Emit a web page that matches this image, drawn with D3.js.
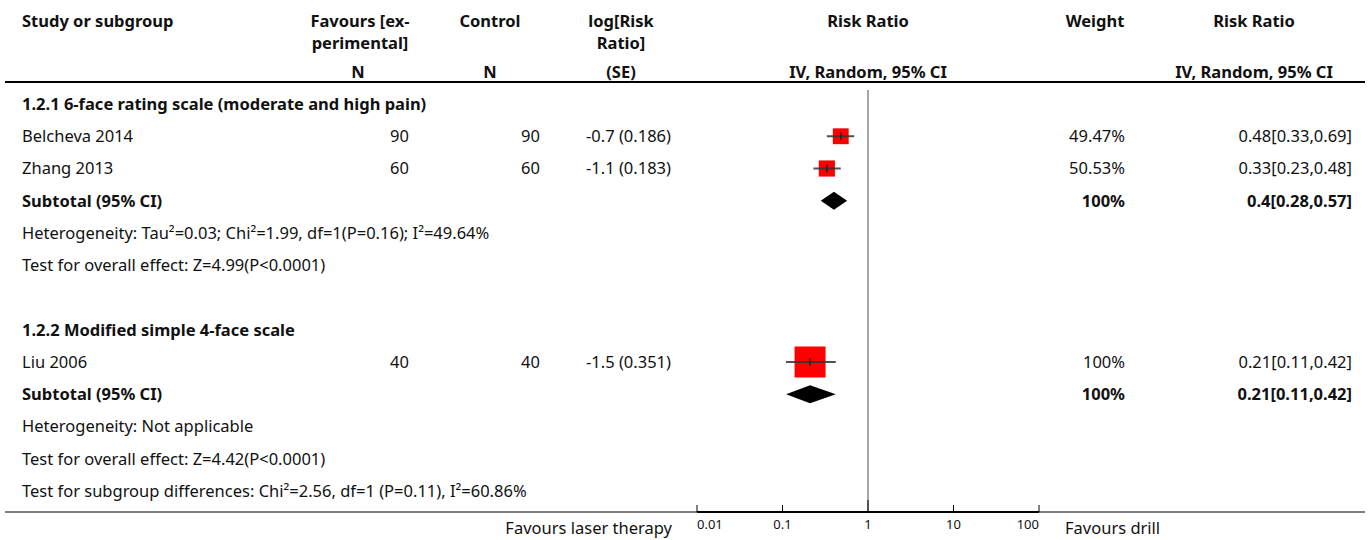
<!DOCTYPE html>
<html>
<head>
<meta charset="utf-8">
<script src="https://cdn.jsdelivr.net/npm/d3@7"></script>
<style>
  body { margin: 0; background: #fff; }
  text { font-family: "Noto Sans", sans-serif; font-size: 16.5px; fill: #111; }
  .b { font-weight: bold; }
</style>
</head>
<body>
<svg id="chart"></svg>
<script>
var studies = ["Belcheva 2014", "Zhang 2013", "Liu 2006"];
var studyGroup = [0, 0, 1];
var expN = [90, 60, 40];
var ctrlN = [90, 60, 40];
var logRR = ["-0.7 (0.186)", "-1.1 (0.183)", "-1.5 (0.351)"];
var rr = [0.48, 0.33, 0.21];
var rrLo = [0.33, 0.23, 0.11];
var rrHi = [0.69, 0.48, 0.42];
var weights = [49.47, 50.53, 100];

var groups = ["1.2.1 6-face rating scale (moderate and high pain)", "1.2.2 Modified simple 4-face scale"];
var subRR = [0.4, 0.21];
var subLo = [0.28, 0.11];
var subHi = [0.57, 0.42];
var subLabel = ["0.4[0.28,0.57]", "0.21[0.11,0.42]"];
var heterogeneity = ["Heterogeneity: Tau²=0.03; Chi²=1.99, df=1(P=0.16); I²=49.64%", "Heterogeneity: Not applicable"];
var overall = ["Test for overall effect: Z=4.99(P<0.0001)", "Test for overall effect: Z=4.42(P<0.0001)"];
var subgroupDiff = "Test for subgroup differences: Chi²=2.56, df=1 (P=0.11), I²=60.86%";

var ticks = [0.01, 0.1, 1, 10, 100];

var w = 1370;
var h = 540;

var svg = d3.select("#chart")
            .attr("width", w)
            .attr("height", h);

var xScale = d3.scaleLog()
               .domain([0.01, 100])
               .range([697, 1039]);

var yRow = d3.scaleLinear()
             .domain([0, 12])
             .range([104, 491]);

var sizeScale = d3.scaleLinear()
                  .domain([0, 100])
                  .range([1, 31]);

// column positions
var colStudy = 22, colExp = 409, colCtrl = 540, colLog = 671, colWeight = 1125, colCI = 1352;

function txt(x, y, s, anchor, cls) {
    return svg.append("text")
              .attr("x", x)
              .attr("y", y)
              .attr("dy", "0.35em")
              .attr("text-anchor", anchor || "start")
              .attr("class", cls || null)
              .text(s);
}

// header
txt(colStudy, 21, "Study or subgroup", "start", "b");
txt(360, 21, "Favours [ex-", "middle", "b");
txt(360, 43, "perimental]", "middle", "b");
txt(358, 72, "N", "middle", "b");
txt(490, 21, "Control", "middle", "b");
txt(490, 72, "N", "middle", "b");
txt(621, 21, "log[Risk", "middle", "b");
txt(621, 43, "Ratio]", "middle", "b");
txt(621, 72, "(SE)", "middle", "b");
txt(868, 21, "Risk Ratio", "middle", "b");
txt(868, 72, "IV, Random, 95% CI", "middle", "b");
txt(1095, 21, "Weight", "middle", "b");
txt(1254, 21, "Risk Ratio", "middle", "b");
txt(1254, 72, "IV, Random, 95% CI", "middle", "b");

svg.append("line")
   .attr("x1", 5).attr("x2", 1365)
   .attr("y1", 82).attr("y2", 82)
   .attr("stroke", "#000")
   .attr("stroke-width", 2);

// null line
svg.append("line")
   .attr("x1", xScale(1)).attr("x2", xScale(1))
   .attr("y1", 90).attr("y2", 512)
   .attr("stroke", "#888")
   .attr("stroke-width", 1.5);

// row layout: heading, studies, subtotal, heterogeneity, overall effect
var row = 0;
groups.forEach(function(g, gi) {
    txt(colStudy, yRow(row), g, "start", "b");
    row++;
    studies.forEach(function(s, i) {
        if (studyGroup[i] !== gi) return;
        var y = yRow(row);
        txt(colStudy, y, s);
        txt(colExp, y, expN[i], "end");
        txt(colCtrl, y, ctrlN[i], "end");
        txt(colLog, y, logRR[i], "end");
        txt(colWeight, y, weights[i] + "%", "end");
        txt(colCI, y, rr[i] + "[" + rrLo[i] + "," + rrHi[i] + "]", "end");

        var sz = sizeScale(weights[i]);
        svg.append("rect")
           .attr("x", xScale(rr[i]) - sz / 2)
           .attr("y", y - sz / 2)
           .attr("width", sz)
           .attr("height", sz)
           .attr("fill", "#ff0000");
        svg.append("line")
           .attr("x1", xScale(rrLo[i])).attr("x2", xScale(rrHi[i]))
           .attr("y1", y).attr("y2", y)
           .attr("stroke", "#333")
           .attr("stroke-opacity", 0.85)
           .attr("stroke-width", 2);
        svg.append("line")
           .attr("x1", xScale(rr[i])).attr("x2", xScale(rr[i]))
           .attr("y1", y - 4).attr("y2", y + 4)
           .attr("stroke", "#222")
           .attr("stroke-width", 1.5);
        row++;
    });
    var ys = yRow(row);
    txt(colStudy, ys, "Subtotal (95% CI)", "start", "b");
    txt(colWeight, ys, "100%", "end", "b");
    txt(colCI, ys, subLabel[gi], "end", "b");
    svg.append("path")
       .attr("d", "M" + xScale(subLo[gi]) + "," + ys +
                  "L" + xScale(subRR[gi]) + "," + (ys - 9) +
                  "L" + xScale(subHi[gi]) + "," + ys +
                  "L" + xScale(subRR[gi]) + "," + (ys + 9) + "Z")
       .attr("fill", "#000");
    row++;
    txt(colStudy, yRow(row), heterogeneity[gi]);
    row++;
    txt(colStudy, yRow(row), overall[gi]);
    row += 2;
});
txt(colStudy, yRow(12), subgroupDiff);

// axis
svg.append("line")
   .attr("x1", 5).attr("x2", 1365)
   .attr("y1", 512).attr("y2", 512)
   .attr("stroke", "#000")
   .attr("stroke-width", 1);
svg.append("line")
   .attr("x1", xScale(0.01)).attr("x2", xScale(100))
   .attr("y1", 512).attr("y2", 512)
   .attr("stroke", "#000")
   .attr("stroke-width", 2);

svg.selectAll(".tick")
   .data(ticks)
   .enter()
   .append("line")
   .attr("class", "tick")
   .attr("x1", function(d) { return xScale(d); })
   .attr("x2", function(d) { return xScale(d); })
   .attr("y1", function(d) { return d === 1 ? 500 : 505; })
   .attr("y2", 512)
   .attr("stroke", "#000")
   .attr("stroke-width", 1);

svg.selectAll(".ticklab")
   .data(ticks)
   .enter()
   .append("text")
   .attr("class", "ticklab")
   .attr("x", function(d) { return xScale(d); })
   .attr("y", 524)
   .attr("dy", "0.35em")
   .attr("text-anchor", function(d, i) {
       return i === 0 ? "start" : (i === ticks.length - 1 ? "end" : "middle");
   })
   .style("font-size", "13px")
   .text(function(d) { return d; });

txt(672, 528, "Favours laser therapy", "end");
txt(1065, 528, "Favours drill", "start");
</script>
</body>
</html>
